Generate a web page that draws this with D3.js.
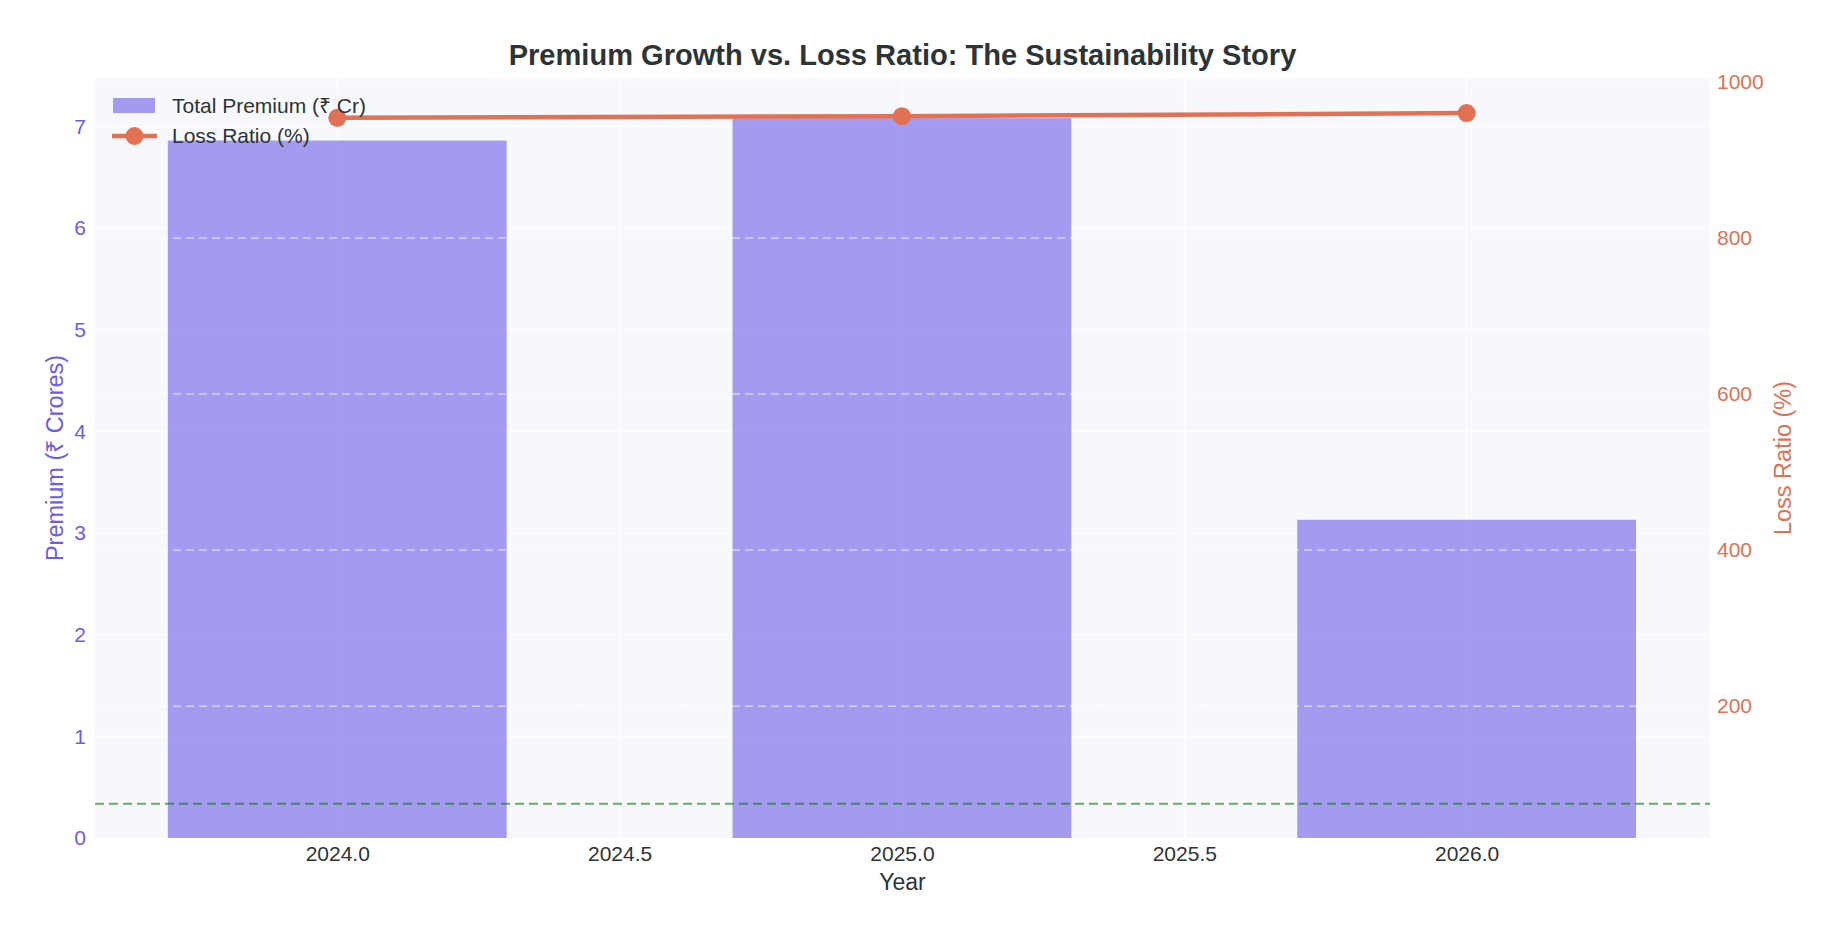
<!DOCTYPE html>
<html>
<head>
<meta charset="utf-8">
<script src="https://cdn.jsdelivr.net/npm/d3@7"></script>
<style>
  body { margin: 0; background: #ffffff; }
  svg { display: block; }
  text { font-family: "Liberation Sans", Arial, Helvetica, sans-serif; }
</style>
</head>
<body>
<svg id="chart" width="1840" height="940"></svg>
<script>
// ---- data ----
const years = [2024, 2025, 2026];
const premium = [6.86, 7.08, 3.13];          // ₹ Crores
const lossRatio = [954, 956, 960];           // %
const xTicks = [2024, 2024.5, 2025, 2025.5, 2026];
const yLeftTicks = [0, 1, 2, 3, 4, 5, 6, 7];
const yRightTicks = [200, 400, 600, 800, 1000];
const thresholdLoss = [75];
const titleText = "Premium Growth vs. Loss Ratio: The Sustainability Story";
const xTitle = "Year";
const yLeftTitle = "Premium (₹ Crores)";
const yRightTitle = "Loss Ratio (%)";
const seriesNames = ["Total Premium (₹ Cr)", "Loss Ratio (%)"];

// ---- layout ----
const W = 1840, H = 940;
const plot = { left: 95, right: 1710, top: 78, bottom: 838 };
const barColor = "#6C5CE7", lineColor = "#E17055", textColor = "#2d3436";
const barWidthYears = 0.6;

const svg = d3.select("#chart");

const x = d3.scaleLinear().domain([2023.571, 2026.431]).range([plot.left, plot.right]);
const yL = d3.scaleLinear().domain([0, 7.475]).range([plot.bottom, plot.top]);
const yR = d3.scaleLinear().domain([31, 1005]).range([plot.bottom, plot.top]);

// background
svg.append("rect").attr("x", plot.left).attr("y", plot.top)
  .attr("width", plot.right - plot.left).attr("height", plot.bottom - plot.top)
  .attr("fill", "#F7F8FC");

// primary grids (white, under traces)
svg.append("g").selectAll("line").data(yLeftTicks.filter(d => d > 0)).join("line")
  .attr("x1", plot.left).attr("x2", plot.right)
  .attr("y1", d => yL(d)).attr("y2", d => yL(d))
  .attr("stroke", "#ffffff").attr("stroke-width", 1);
svg.append("g").selectAll("line").data(xTicks).join("line")
  .attr("y1", plot.top).attr("y2", plot.bottom)
  .attr("x1", d => x(d)).attr("x2", d => x(d))
  .attr("stroke", "#ffffff").attr("stroke-width", 1);

// bars
svg.append("g").selectAll("rect").data(years).join("rect")
  .attr("x", d => x(d - barWidthYears / 2))
  .attr("width", d => x(d + barWidthYears / 2) - x(d - barWidthYears / 2))
  .attr("y", (d, i) => yL(premium[i]))
  .attr("height", (d, i) => yL(0) - yL(premium[i]))
  .attr("fill", barColor).attr("fill-opacity", 0.6);

// secondary grid (dashed, above bars)
svg.append("g").selectAll("line").data(yRightTicks).join("line")
  .attr("x1", plot.left).attr("x2", plot.right)
  .attr("y1", d => yR(d)).attr("y2", d => yR(d))
  .attr("stroke", "#ffffff").attr("stroke-opacity", 0.55)
  .attr("stroke-width", 1.5).attr("stroke-dasharray", "8,5");

// threshold line
svg.append("g").selectAll("line").data(thresholdLoss).join("line")
  .attr("x1", plot.left).attr("x2", plot.right)
  .attr("y1", d => yR(d)).attr("y2", d => yR(d))
  .attr("stroke", "green").attr("stroke-opacity", 0.6)
  .attr("stroke-width", 2).attr("stroke-dasharray", "9,5");

// loss ratio line
const lineGen = d3.line().x((d, i) => x(years[i])).y(d => yR(d));
svg.append("path").datum(lossRatio).attr("d", lineGen)
  .attr("fill", "none").attr("stroke", lineColor).attr("stroke-width", 4.5);
svg.append("g").selectAll("circle").data(lossRatio).join("circle")
  .attr("cx", (d, i) => x(years[i])).attr("cy", d => yR(d))
  .attr("r", 9).attr("fill", lineColor);

// axes
const axL = svg.append("g").attr("transform", `translate(${plot.left},0)`)
  .call(d3.axisLeft(yL).tickValues(yLeftTicks).tickSize(0).tickPadding(9).tickFormat(d3.format("d")));
axL.select(".domain").remove();
axL.selectAll("text").attr("fill", barColor).style("font-size", "21px")
  .style("font-family", '"Liberation Sans", Arial, sans-serif');

const axR = svg.append("g").attr("transform", `translate(${plot.right},0)`)
  .call(d3.axisRight(yR).tickValues(yRightTicks).tickSize(0).tickPadding(7).tickFormat(d3.format("d")));
axR.select(".domain").remove();
axR.selectAll("text").attr("fill", lineColor).style("font-size", "21px")
  .style("font-family", '"Liberation Sans", Arial, sans-serif');

const axB = svg.append("g").attr("transform", `translate(0,${plot.bottom})`)
  .call(d3.axisBottom(x).tickValues(xTicks).tickSize(0).tickPadding(8).tickFormat(d3.format(".1f")));
axB.select(".domain").remove();
axB.selectAll("text").attr("fill", textColor).style("font-size", "21px")
  .style("font-family", '"Liberation Sans", Arial, sans-serif');

// titles
const t = svg.append("text").attr("x", (plot.left + plot.right) / 2).attr("y", 65)
  .attr("text-anchor", "middle").attr("fill", textColor)
  .style("font-size", "28px").style("font-weight", "bold").text(titleText);
const tl = t.node().getComputedTextLength();
if (tl > 0) t.style("font-size", (28 * 788 / tl).toFixed(2) + "px");

svg.append("text").attr("x", (plot.left + plot.right) / 2).attr("y", 890)
  .attr("text-anchor", "middle").attr("fill", textColor)
  .style("font-size", "23px").text(xTitle);

svg.append("text").attr("transform", `translate(63,${(plot.top + plot.bottom) / 2}) rotate(-90)`)
  .attr("text-anchor", "middle").attr("fill", barColor)
  .style("font-size", "23.5px").text(yLeftTitle);

svg.append("text").attr("transform", `translate(1791,${(plot.top + plot.bottom) / 2}) rotate(-90)`)
  .attr("text-anchor", "middle").attr("fill", lineColor)
  .style("font-size", "23.5px").text(yRightTitle);

// legend
const lg = svg.append("g");
lg.append("rect").attr("x", 113).attr("y", 98).attr("width", 42).attr("height", 15)
  .attr("fill", barColor).attr("fill-opacity", 0.6);
lg.append("line").attr("x1", 112).attr("x2", 157).attr("y1", 136).attr("y2", 136)
  .attr("stroke", lineColor).attr("stroke-width", 4.5);
lg.append("circle").attr("cx", 134.5).attr("cy", 136).attr("r", 9).attr("fill", lineColor);
lg.selectAll("text.lt").data(seriesNames).join("text").attr("class", "lt")
  .attr("x", 172).attr("y", (d, i) => 113 + i * 30)
  .attr("fill", textColor).style("font-size", "21px").text(d => d);
</script>
</body>
</html>
